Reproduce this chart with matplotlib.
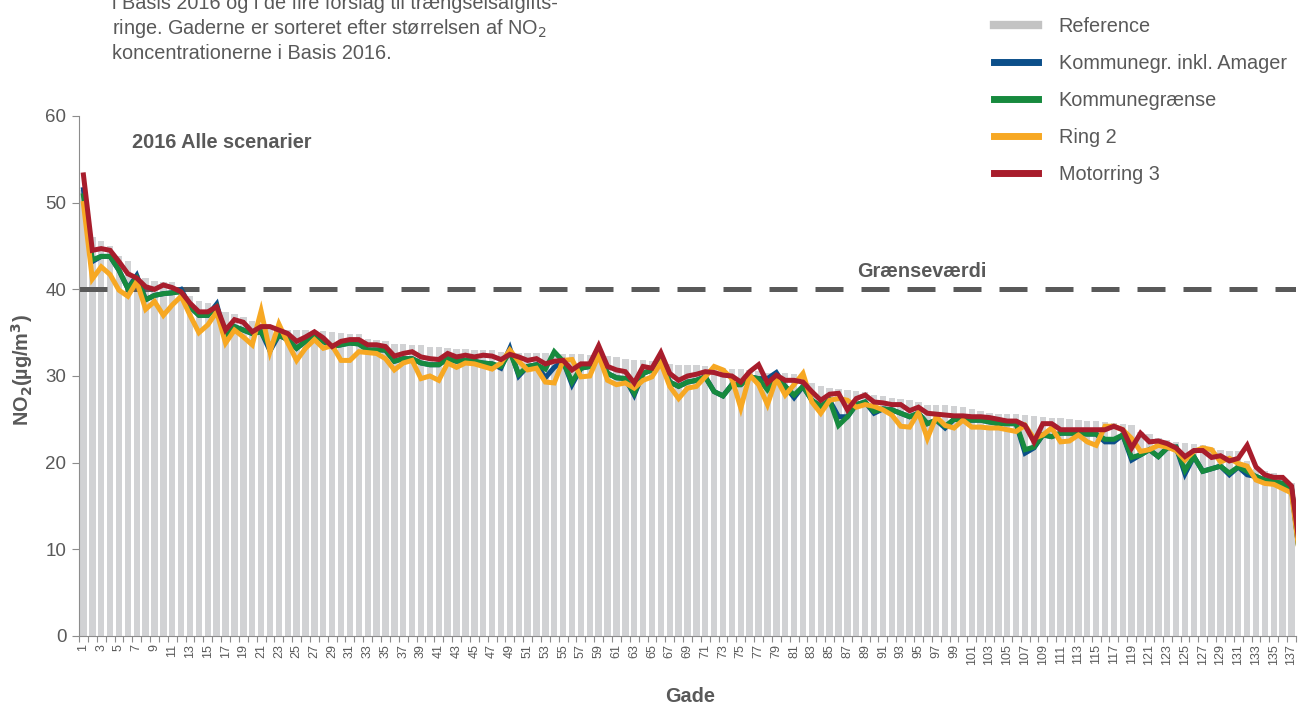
import numpy as np
import matplotlib
matplotlib.use("Agg")
import matplotlib.pyplot as plt
from matplotlib.lines import Line2D

plt.rcParams['font.family'] = ['Liberation Sans', 'DejaVu Sans']

gade = list(range(1, 139))

reference = [51.5, 46.0, 45.6, 45.0, 43.8, 43.3, 41.6, 41.3, 41.0, 40.9, 40.9, 40.3, 39.2, 38.7, 38.4, 38.0,
             37.4, 37.2, 36.8, 36.3, 35.9, 35.7, 35.5, 35.3, 35.3, 35.3, 35.2, 35.2, 35.1, 35.0, 34.9, 34.9,
             34.3, 34.2, 34.0, 33.7, 33.7, 33.6, 33.6, 33.4, 33.4, 33.2, 33.1, 33.1, 33.0, 33.0, 33.0, 32.8,
             32.8, 32.7, 32.7, 32.7, 32.7, 32.6, 32.5, 32.5, 32.5, 32.4, 32.4, 32.3, 32.2, 32.0, 31.8, 31.8,
             31.7, 31.5, 31.4, 31.3, 31.3, 31.3, 31.2, 31.1, 30.9, 30.8, 30.8, 30.7, 30.6, 30.4, 30.4, 30.3,
             30.2, 29.7, 29.2, 28.8, 28.6, 28.5, 28.4, 28.3, 28.1, 27.8, 27.7, 27.5, 27.3, 27.2, 27.0, 26.7,
             26.7, 26.6, 26.5, 26.4, 26.2, 26.0, 25.7, 25.6, 25.6, 25.6, 25.5, 25.4, 25.3, 25.2, 25.2, 25.0,
             24.9, 24.8, 24.8, 24.7, 24.6, 24.5, 24.3, 23.5, 23.3, 22.9, 22.6, 22.4, 22.3, 22.2, 22.0, 21.7,
             21.5, 21.4, 21.3, 20.2, 19.3, 19.0, 18.8, 18.4, 17.6, 9.0]

motorring3 = [53.2, 44.5, 44.7, 44.5, 43.2, 41.8, 41.3, 40.3, 40.0, 40.5, 40.2, 39.7, 38.4, 37.4, 37.4, 38.0,
              35.3, 36.5, 36.2, 35.1, 35.7, 35.7, 35.3, 34.9, 34.0, 34.5, 35.1, 34.4, 33.4, 34.0, 34.2, 34.2,
              33.6, 33.6, 33.4, 32.3, 32.6, 32.8, 32.2, 32.0, 31.9, 32.6, 32.2, 32.4, 32.2, 32.4, 32.3, 31.9,
              32.5, 32.2, 31.8, 32.0, 31.4, 31.7, 31.8, 30.7, 31.4, 31.4, 33.5, 31.1, 30.7, 30.5, 29.2, 31.1,
              30.9, 32.7, 30.3, 29.5, 30.0, 30.2, 30.5, 30.4, 30.1, 30.0, 29.3, 30.5, 31.3, 29.2, 30.1, 29.5,
              29.5, 29.3, 28.2, 27.2, 27.9, 28.0, 26.1, 27.4, 27.8, 27.0, 26.9, 26.7, 26.7, 26.0, 26.4, 25.7,
              25.6, 25.5, 25.4, 25.4, 25.3, 25.3, 25.2, 25.0, 24.8, 24.8, 24.3, 22.4, 24.5, 24.5, 23.8, 23.8,
              23.8, 23.8, 23.8, 23.8, 24.2, 23.8, 21.7, 23.4, 22.4, 22.5, 22.2, 21.7, 20.7, 21.4, 21.4, 20.6,
              20.8, 20.2, 20.5, 22.0, 19.5, 18.6, 18.3, 18.3, 17.3, 9.5]

kommunegraense = [50.8, 43.4, 43.8, 43.8, 42.2, 40.1, 41.3, 38.8, 39.3, 39.5, 39.6, 39.7, 38.0, 37.0, 37.0, 38.0,
                  34.4, 35.7, 35.3, 34.9, 35.1, 33.4, 34.7, 34.2, 33.2, 34.0, 34.9, 34.0, 33.4, 33.6, 33.8, 33.7,
                  33.0, 33.0, 33.0, 31.7, 32.0, 32.0, 31.5, 31.3, 31.3, 32.0, 31.7, 31.8, 31.7, 31.5, 31.4, 31.1,
                  32.8, 30.2, 31.1, 31.3, 30.8, 32.8, 31.7, 29.3, 30.9, 31.1, 32.6, 30.3, 29.8, 29.7, 28.0, 30.3,
                  30.7, 31.7, 29.3, 28.8, 29.3, 29.5, 29.9, 28.2, 27.7, 29.0, 29.0, 29.9, 29.7, 28.4, 29.7, 28.8,
                  27.8, 28.8, 27.2, 26.5, 27.2, 24.3, 25.3, 26.7, 27.0, 25.9, 26.2, 26.1, 25.7, 25.3, 25.7, 24.5,
                  24.9, 24.2, 25.0, 24.9, 24.9, 24.9, 24.7, 24.5, 24.5, 24.5, 21.5, 21.8, 23.2, 23.0, 23.4, 23.4,
                  23.4, 23.3, 23.3, 22.7, 22.7, 23.2, 20.6, 20.9, 21.5, 20.7, 21.7, 21.8, 19.1, 20.7, 19.0, 19.3,
                  19.6, 18.8, 19.5, 19.0, 18.4, 18.0, 17.8, 17.6, 17.0, 8.5]

kommunegr_amager = [51.5, 43.2, 43.8, 43.8, 42.2, 40.1, 41.6, 38.8, 39.3, 39.5, 39.6, 40.0, 38.0, 37.0, 37.0, 38.3,
                    34.4, 35.7, 35.3, 34.9, 35.1, 32.9, 34.7, 34.2, 33.2, 34.0, 34.9, 34.0, 33.4, 33.6, 33.8, 33.7,
                    33.0, 33.0, 33.0, 31.7, 32.0, 32.0, 31.5, 31.3, 31.3, 32.0, 31.7, 31.8, 31.7, 31.5, 31.4, 30.9,
                    33.2, 30.0, 31.1, 31.3, 29.8, 31.0, 31.7, 29.0, 30.9, 31.1, 32.6, 30.3, 29.8, 29.7, 27.8, 30.3,
                    30.7, 31.7, 29.3, 28.8, 29.3, 29.5, 29.9, 28.2, 27.7, 29.0, 29.0, 29.9, 29.7, 29.7, 30.4, 28.8,
                    27.5, 28.8, 27.2, 26.5, 27.2, 25.3, 25.3, 26.7, 27.0, 25.7, 26.2, 26.1, 25.7, 25.3, 25.7, 24.5,
                    24.9, 24.0, 25.0, 24.9, 24.9, 24.9, 24.7, 24.5, 24.5, 24.5, 21.1, 21.7, 23.2, 23.0, 23.4, 23.4,
                    23.4, 23.3, 23.3, 22.4, 22.4, 23.2, 20.3, 20.9, 21.5, 20.7, 21.7, 21.8, 18.7, 20.7, 19.0, 19.3,
                    19.6, 18.6, 19.5, 18.6, 18.4, 18.0, 17.8, 17.6, 17.0, 8.5]

ring2 = [49.9, 41.2, 42.6, 41.7, 39.9, 39.2, 40.9, 37.7, 38.6, 37.0, 38.2, 39.2, 37.0, 35.0, 35.9, 37.4,
         33.8, 35.3, 34.5, 33.6, 37.5, 32.8, 36.0, 33.8, 31.8, 33.2, 34.2, 33.2, 33.5, 31.8, 31.8, 32.8,
         32.7, 32.6, 32.0, 30.7, 31.5, 31.8, 29.7, 30.0, 29.5, 31.5, 31.0, 31.5, 31.4, 31.1, 30.8, 31.5,
         33.0, 31.7, 30.7, 30.9, 29.3, 29.2, 31.8, 31.9, 29.9, 30.0, 32.4, 29.5, 29.0, 29.2, 28.6, 29.5,
         29.9, 31.5, 28.8, 27.4, 28.6, 28.8, 29.9, 31.1, 30.7, 29.7, 26.3, 30.1, 29.0, 26.7, 29.7, 27.8,
         29.0, 30.3, 27.0, 25.7, 27.2, 27.4, 27.2, 26.4, 26.7, 26.5, 26.1, 25.5, 24.2, 24.1, 25.8, 22.8,
         25.3, 24.3, 24.0, 24.9, 24.1, 24.1, 24.0, 24.0, 23.8, 23.6, 24.3, 22.8, 23.2, 24.0, 22.4, 22.5,
         23.2, 22.4, 22.0, 24.2, 24.2, 23.8, 22.8, 21.3, 21.5, 22.0, 21.8, 21.4, 20.3, 21.3, 21.7, 21.5,
         20.1, 20.5, 19.9, 19.6, 18.0, 17.6, 17.5, 17.0, 16.5, 8.5]

graensevaerdi = 40
tick_labels = [str(g) for g in gade if g % 2 == 1 and g <= 137]

GREY = '#595959'
FS = 14.3
fig = plt.figure(figsize=(12.98, 7.05), dpi=100)
ax = fig.add_axes([79 / 1298, 69 / 705, 1217 / 1298, 520 / 705])

x = np.array(gade)
ax.bar(x, reference, width=0.72, color='#d1d2d4', zorder=1)

series = [
    (kommunegr_amager, '#0c4f8a', 'Kommunegr. inkl. Amager'),
    (kommunegraense, '#178a3e', 'Kommunegrænse'),
    (ring2, '#f7a823', 'Ring 2'),
    (motorring3, '#a81d2c', 'Motorring 3'),
]
for vals, col, lab in series:
    ax.plot(x, vals, color=col, lw=3.6, solid_joinstyle='miter', zorder=3)

ax.axhline(graensevaerdi, color=GREY, lw=3.6, dashes=(5.6, 3.6), zorder=2)

ax.set_xlim(0.5, 137.5)
ax.set_ylim(0, 60)
ax.set_yticks(range(0, 61, 10))
ax.set_xticks([g for g in gade if g % 2 == 1 and g <= 137])
ax.set_xticklabels(tick_labels, rotation=90, fontsize=9, color=GREY)
ax.set_xticks(np.arange(0.5, 138, 1.0), minor=True)
ax.tick_params(axis='x', which='major', length=0, pad=6)
ax.tick_params(axis='x', which='minor', length=4, color='#8c8c8c', width=0.8)
ax.tick_params(axis='y', length=5, color='#8c8c8c', width=0.8, labelsize=13.5, labelcolor=GREY, pad=4)
for s in ['top', 'right']:
    ax.spines[s].set_visible(False)
for s in ['left', 'bottom']:
    ax.spines[s].set_color('#8c8c8c')
    ax.spines[s].set_linewidth(0.8)

ax.text(6.5, 57.0, '2016 Alle scenarier', fontsize=FS, fontweight='bold', color=GREY, va='center', ha='left')
ax.text(88.1, 42.1, 'Grænseværdi', fontsize=FS, fontweight='bold', color=GREY, va='center', ha='left')

fig.text(690 / 1298, 1 - 697 / 705, 'Gade', fontsize=FS, fontweight='bold', color=GREY, ha='center', va='center')
fig.text(22 / 1298, 1 - 370 / 705, 'NO$_\\mathbf{2}$(µg/m$^\\mathbf{3}$)', fontsize=FS, fontweight='bold',
         color=GREY, ha='center', va='center', rotation=90)

intro = ['i Basis 2016 og i de fire forslag til trængselsafgifts-',
         'ringe. Gaderne er sorteret efter størrelsen af NO$_2$',
         'koncentrationerne i Basis 2016.']
for k, line in enumerate(intro):
    fig.text(112 / 1298, 1 - (9 + 25 * k) / 705, line, fontsize=FS, color=GREY, ha='left', va='baseline')

handles = [Line2D([], [], color='#c3c3c3', lw=6)] + \
          [Line2D([], [], color=c, lw=5) for _, c, _ in series]
labels = ['Reference'] + [l for _, _, l in series]
leg = fig.legend(handles, labels, loc='upper left', bbox_to_anchor=(994 / 1298, 1 - 17 / 705),
                 frameon=False, fontsize=FS, handlelength=2.2, handletextpad=1.05,
                 labelspacing=0.9, borderpad=0, borderaxespad=0)
for t in leg.get_texts():
    t.set_color(GREY)

fig.savefig('out.png', dpi=100)
